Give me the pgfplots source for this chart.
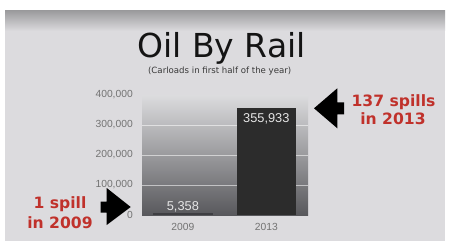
\documentclass[border=0pt]{standalone}
\usepackage{pgfplots}
\pgfplotsset{compat=1.18}
\usepackage{fontspec}
\setmainfont{DejaVu Sans}
\newfontfamily\lib{Liberation Sans}
\definecolor{bgc}{HTML}{DCDBDE}
\definecolor{bandtop}{HTML}{9C9C9E}
\definecolor{plottop}{HTML}{DCDCDE}
\definecolor{plotbot}{HTML}{58585C}
\definecolor{barone}{HTML}{3E3E42}
\definecolor{bartwo}{HTML}{2C2C2C}
\definecolor{valc}{HTML}{E6E6E6}
\definecolor{tickgray}{HTML}{737373}
\definecolor{redt}{HTML}{C0312B}
\begin{document}
\begin{tikzpicture}[x=1pt,y=1pt]
\useasboundingbox (0,0) rectangle (449,241);
\fill[white] (0,0) rectangle (449,241);
\fill[bgc] (5,0) rectangle (445,230);
\shade[top color=bandtop, bottom color=bgc] (5,210) rectangle (445,230);
\node[anchor=base, font=\fontsize{33}{36}\selectfont, text=black!92] at (221.5,183) {Oil By Rail};
\node[anchor=base, font=\fontsize{8.6}{10}\selectfont, text=black!78] at (219.7,167.5) {(Carloads in first half of the year)};
\begin{axis}[
  at={(142pt,26pt)}, anchor=south west,
  scale only axis, width=166pt, height=120pt,
  xmin=-0.49, xmax=1.5, ymin=0, ymax=400000,
  axis line style={draw=none},
  major tick length=0pt,
  ytick={0,100000,200000,300000,400000},
  yticklabels={0,{100,000},{200,000},{300,000},{400,000}},
  xtick={0,1}, xticklabels={2009,2013},
  scaled y ticks=false,
  tick label style={font=\lib\fontsize{10.3}{12}\selectfont, text=tickgray},
  yticklabel style={inner sep=0pt, anchor=east, xshift=-9pt},
  xticklabel style={inner sep=0pt, anchor=north, yshift=-8pt},
  extra y ticks={100000,200000,300000},
  extra y tick labels={},
  extra y tick style={grid=major},
  major grid style={white, opacity=0.55, line width=0.8pt},
  axis background/.style={top color=plottop, bottom color=plotbot},
  clip=false,
]
\addplot[ybar, bar width=60pt, bar shift=0pt, fill=barone, draw=none,
  nodes near coords={5,358},
  every node near coord/.append style={font=\lib\fontsize{12.8}{14}\selectfont, text=valc, anchor=base, yshift=2.5pt, inner sep=0pt}]
  coordinates {(0,5358)};
\addplot[ybar, bar width=59pt, bar shift=0pt, fill=bartwo, draw=none,
  nodes near coords={355,933},
  every node near coord/.append style={font=\lib\fontsize{12.8}{14}\selectfont, text=valc, anchor=north, yshift=-5pt, inner sep=0pt}]
  coordinates {(1,355933)};
\end{axis}
% arrows
\fill[black] (100.7,39.5) -- (106.7,39.5) -- (106.7,53) -- (130.7,34) -- (106.7,16) -- (106.7,28.5) -- (100.7,28.5) -- cycle;
\fill[black] (314,132.7) -- (337.3,152.7) -- (337.3,138.5) -- (344,138.5) -- (344,126.5) -- (337.3,126.5) -- (337.3,112.7) -- cycle;
% red annotations
\begin{scope}[every node/.style={anchor=base, font=\bfseries\fontsize{15.6}{18}\selectfont, text=redt, inner sep=0pt}]
\node at (60,33) {1 spill};
\node at (60,12.7) {in 2009};
\node at (393.5,134.3) {137 spills};
\node at (393,116) {in 2013};
\end{scope}
\end{tikzpicture}
\end{document}
